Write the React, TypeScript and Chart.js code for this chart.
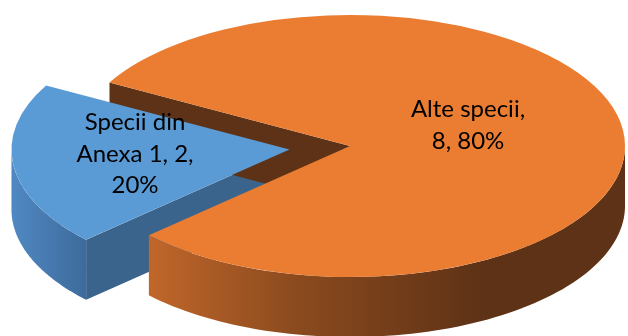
import { useEffect, useRef } from "react";
import { Chart, registerables } from "chart.js";

Chart.register(...registerables);

// ---- data ----
const categories = ["Specii din Anexa 1", "Alte specii"];
const values = [2, 8];

// ---- style ----
const topColors = ["#5B9BD5", "#EB7D32"];
const faceColors = ["#3A648B", "#5E3216"];
const sideStops: [number, string][][] = [
  [[0, "#5089C4"], [1, "#3B6796"]],
  [[0, "#C0662A"], [0.45, "#8A4A1E"], [1, "#5E3216"]],
];
const sideGradX: [number, number][] = [[10, 95], [150, 480]];
const explodePx = [61, 0];

const W = 628, H = 336;
const CX = 350, CY = 146, RX = 275, RY = 131, DEPTH = 60;
const K = RY / RX;
const ROTATION = 227;

const labelAnchors: [number, number][] = [[135, 130], [468, 117]];
const LINE_H = 31.5;
const FONT = "24px Lato";
const WRAP = 130;

function frontRanges(s: number, e: number) {
  const out: [number, number][] = [];
  const T = Math.PI * 2;
  for (let n = Math.floor(s / T) - 1; n <= Math.ceil(e / T) + 1; n++) {
    const a = Math.max(s, n * T), b = Math.min(e, n * T + Math.PI);
    if (b > a) out.push([a, b]);
  }
  return out;
}

const pie3d = {
  id: "pie3d",
  beforeDatasetsDraw(chart: any) {
    const ctx: CanvasRenderingContext2D = chart.ctx;
    const meta = chart.getDatasetMeta(0);
    const arcs = meta.data.map((el: any, i: number) => {
      const o = (el.options.offset || 0) / 4;
      const mid = (el.startAngle + el.endAngle) / 2;
      const fix = 1 - Math.sin(Math.min(Math.PI, el.circumference || 0));
      return {
        i,
        cx: el.x + Math.cos(mid) * o,
        cy: el.y,
        oy: Math.sin(mid) * o,
        r: el.outerRadius + o * fix,
        s: el.startAngle,
        e: el.endAngle,
      };
    });
    const P = (a: any, th: number, z: number): [number, number] => [
      a.cx + a.r * Math.cos(th),
      a.cy + K * (a.oy + a.r * Math.sin(th)) + z,
    ];
    const C = (a: any, z: number): [number, number] => [a.cx, a.cy + K * a.oy + z];

    // cut faces
    arcs.forEach((a: any) => {
      const faces: number[] = [];
      if (Math.cos(a.s) < 0) faces.push(a.s);
      if (Math.cos(a.e) > 0) faces.push(a.e);
      faces.forEach((th) => {
        ctx.beginPath();
        ctx.moveTo(...C(a, 0));
        ctx.lineTo(...P(a, th, 0));
        ctx.lineTo(...P(a, th, DEPTH));
        ctx.lineTo(...C(a, DEPTH));
        ctx.closePath();
        ctx.fillStyle = faceColors[a.i];
        ctx.fill();
      });
    });

    // outer sides
    arcs.forEach((a: any) => {
      const g = ctx.createLinearGradient(sideGradX[a.i][0], 0, sideGradX[a.i][1], 0);
      sideStops[a.i].forEach(([p, c]) => g.addColorStop(p, c));
      frontRanges(a.s, a.e).forEach(([s, e]) => {
        const N = 80;
        ctx.beginPath();
        for (let j = 0; j <= N; j++) {
          const th = s + ((e - s) * j) / N;
          const [x, y] = P(a, th, 0);
          if (j === 0) ctx.moveTo(x, y);
          else ctx.lineTo(x, y);
        }
        for (let j = N; j >= 0; j--) {
          const th = s + ((e - s) * j) / N;
          ctx.lineTo(...P(a, th, DEPTH));
        }
        ctx.closePath();
        ctx.fillStyle = g;
        ctx.fill();
      });
    });

    const cy = meta.data[0].y;
    ctx.save();
    ctx.translate(0, cy);
    ctx.scale(1, K);
    ctx.translate(0, -cy);
  },
  afterDatasetsDraw(chart: any) {
    chart.ctx.restore();
  },
  afterDraw(chart: any) {
    const ctx: CanvasRenderingContext2D = chart.ctx;
    const total = values.reduce((s, v) => s + v, 0);
    ctx.save();
    ctx.font = FONT;
    ctx.fillStyle = "#000000";
    ctx.textAlign = "center";
    ctx.textBaseline = "alphabetic";
    categories.forEach((cat, i) => {
      const pct = Math.round((values[i] / total) * 100);
      const words = `${cat}, ${values[i]}, ${pct}%`.split(" ");
      const lines: string[] = [];
      let cur = "";
      words.forEach((w) => {
        const t = cur ? cur + " " + w : w;
        if (cur && ctx.measureText(t).width > WRAP) {
          lines.push(cur);
          cur = w;
        } else cur = t;
      });
      if (cur) lines.push(cur);
      const [x, y] = labelAnchors[i];
      lines.forEach((ln, j) => ctx.fillText(ln, x, y + j * LINE_H));
    });
    ctx.restore();
  },
};

export default function App() {
  const ref = useRef<HTMLCanvasElement | null>(null);
  useEffect(() => {
    if (!ref.current) return;
    const chart = new Chart(ref.current, {
      type: "pie",
      data: {
        labels: categories,
        datasets: [
          {
            data: values,
            backgroundColor: topColors,
            borderWidth: 0,
            offset: explodePx.map((o) => o * 4),
            radius: RX,
            clip: false,
          } as any,
        ],
      },
      options: {
        responsive: false,
        animation: false,
        devicePixelRatio: 1,
        rotation: ROTATION,
        radius: RX,
        layout: { padding: { left: 2 * CX - W, right: 0, top: 0, bottom: H - 2 * CY } },
        plugins: { legend: { display: false }, tooltip: { enabled: false } },
      } as any,
      plugins: [pie3d],
    });
    return () => chart.destroy();
  }, []);
  return (
    <div style={{ position: "absolute", left: 0, top: 0, width: W, height: H, background: "#ffffff" }}>
      <canvas ref={ref} width={W} height={H} style={{ display: "block" }} />
    </div>
  );
}
